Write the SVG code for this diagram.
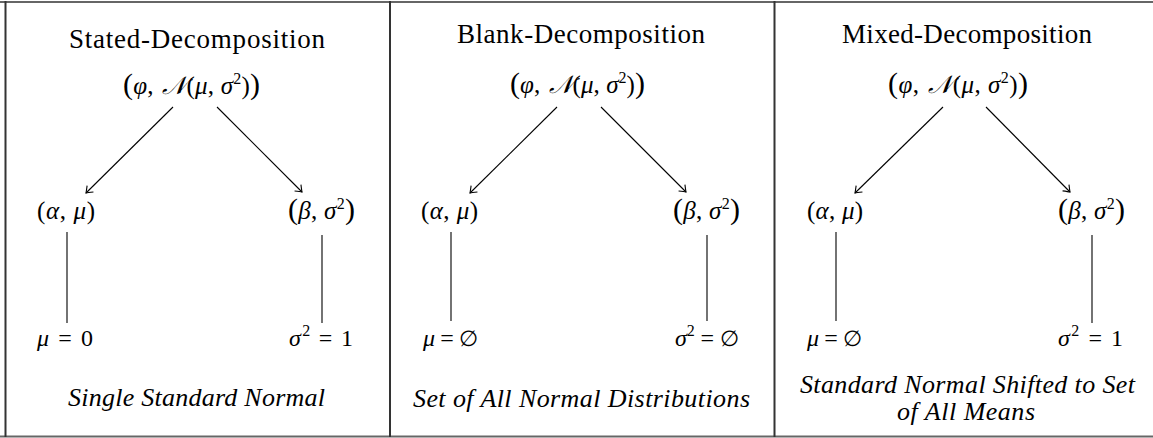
<svg xmlns="http://www.w3.org/2000/svg" width="1153" height="438" viewBox="0 0 1153 438">
<defs>
<style>
.t{font-family:"Liberation Serif","DejaVu Serif",serif;font-size:27px;fill:#000}
.cap{font-family:"Liberation Serif","DejaVu Serif",serif;font-size:26px;font-style:italic;fill:#000}
.m{font-family:"Liberation Serif","DejaVu Serif",serif;font-size:25px;fill:#000}
.mb{font-family:"Liberation Serif","DejaVu Serif",serif;font-size:24px;fill:#000}
.i{font-style:italic}
.bp{font-size:30px}
.sup{font-size:16px}
.es{font-size:22px}
.ln{stroke:#000;stroke-width:1.1;fill:none}
.ar{stroke:#000;stroke-width:1.1;fill:none;marker-end:url(#to)}
.frameh{stroke:#666;stroke-width:2}
.framev{stroke:#333;stroke-width:2}
</style>
<marker id="to" markerWidth="12" markerHeight="12" refX="0" refY="0" viewBox="-8 -6 10 12" orient="auto" markerUnits="userSpaceOnUse">
<path d="M-6,-4.5 Q-1.5,-1 0,0 Q-1.5,1 -6,4.5" stroke="#000" stroke-width="1.1" fill="none"/>
</marker>
</defs>
<g id="frame">
<line class="frameh" x1="0" y1="2" x2="1153" y2="2"/>
<line class="frameh" x1="0" y1="436.5" x2="1153" y2="436.5"/>
<line class="framev" x1="5.5" y1="1" x2="5.5" y2="437"/>
<line class="framev" x1="390" y1="1" x2="390" y2="437"/>
<line class="framev" x1="774.5" y1="1" x2="774.5" y2="437"/>
</g>
<g id="connectors">
<line class="ar" x1="173" y1="107" x2="86" y2="193"/>
<line class="ar" x1="217" y1="107" x2="302" y2="192"/>
<line class="ln" x1="67" y1="232" x2="67" y2="323"/>
<line class="ln" x1="322" y1="235" x2="322" y2="323"/>
<line class="ar" x1="557" y1="107" x2="470" y2="193"/>
<line class="ar" x1="601" y1="107" x2="686" y2="192"/>
<line class="ln" x1="451" y1="232" x2="451" y2="321"/>
<line class="ln" x1="707" y1="235" x2="707" y2="321"/>
<line class="ar" x1="943" y1="107" x2="855" y2="193"/>
<line class="ar" x1="986" y1="107" x2="1070" y2="192"/>
<line class="ln" x1="836" y1="232" x2="836" y2="321"/>
<line class="ln" x1="1092" y1="235" x2="1092" y2="323"/>
</g>
<g id="panel-stated">
<text id="title-stated" class="t" x="69" y="48" textLength="256">Stated-Decomposition</text>
<g id="root-stated"><text class="m" x="123" y="94" textLength="137"><tspan class="bp">(</tspan><tspan class="i">φ</tspan>, <tspan class="i" dx="2">𝒩</tspan>(<tspan class="i">μ</tspan>, <tspan class="i">σ</tspan><tspan class="sup" dy="-10">2</tspan><tspan dy="10">)</tspan><tspan class="bp">)</tspan></text></g>
<g id="alpha-stated"><text class="m" x="37" y="219" textLength="58">(<tspan class="i">α</tspan>, <tspan class="i">μ</tspan>)</text></g>
<g id="beta-stated"><text class="m" x="288" y="219" textLength="67"><tspan class="bp">(</tspan><tspan class="i">β</tspan>, <tspan class="i">σ</tspan><tspan class="sup" dy="-10">2</tspan><tspan class="bp" dy="10">)</tspan></text></g>
<g id="mu-stated"><text class="mb" x="37" y="346" textLength="56"><tspan class="i">μ</tspan> = 0</text></g>
<g id="sigma-stated"><text class="mb" x="289" y="346" textLength="64"><tspan class="i">σ</tspan><tspan class="sup" dy="-10">2</tspan><tspan dy="10"> = 1</tspan></text></g>
<text class="cap" x="68" y="406" textLength="257">Single Standard Normal</text>
</g>
<g id="panel-blank">
<text id="title-blank" class="t" x="457" y="43" textLength="248">Blank-Decomposition</text>
<g id="root-blank"><text class="m" x="510" y="93" textLength="135"><tspan class="bp">(</tspan><tspan class="i">φ</tspan>, <tspan class="i" dx="2">𝒩</tspan>(<tspan class="i">μ</tspan>, <tspan class="i">σ</tspan><tspan class="sup" dy="-10">2</tspan><tspan dy="10">)</tspan><tspan class="bp">)</tspan></text></g>
<g id="alpha-blank"><text class="m" x="421" y="219" textLength="57">(<tspan class="i">α</tspan>, <tspan class="i">μ</tspan>)</text></g>
<g id="beta-blank"><text class="m" x="673" y="219" textLength="67"><tspan class="bp">(</tspan><tspan class="i">β</tspan>, <tspan class="i">σ</tspan><tspan class="sup" dy="-10">2</tspan><tspan class="bp" dy="10">)</tspan></text></g>
<g id="mu-blank"><text class="mb" x="423" y="346" textLength="55"><tspan class="i">μ</tspan> = <tspan class="es">∅</tspan></text></g>
<g id="sigma-blank"><text class="mb" x="675" y="346" textLength="64"><tspan class="i">σ</tspan><tspan class="sup" dy="-10">2</tspan><tspan dy="10"> = </tspan><tspan class="es">∅</tspan></text></g>
<text class="cap" x="413" y="407" textLength="337">Set of All Normal Distributions</text>
</g>
<g id="panel-mixed">
<text id="title-mixed" class="t" x="842" y="43" textLength="250">Mixed-Decomposition</text>
<g id="root-mixed"><text class="m" x="888" y="93" textLength="140"><tspan class="bp">(</tspan><tspan class="i">φ</tspan>, <tspan class="i" dx="2">𝒩</tspan>(<tspan class="i">μ</tspan>, <tspan class="i">σ</tspan><tspan class="sup" dy="-10">2</tspan><tspan dy="10">)</tspan><tspan class="bp">)</tspan></text></g>
<g id="alpha-mixed"><text class="m" x="807" y="219" textLength="56">(<tspan class="i">α</tspan>, <tspan class="i">μ</tspan>)</text></g>
<g id="beta-mixed"><text class="m" x="1058" y="219" textLength="67"><tspan class="bp">(</tspan><tspan class="i">β</tspan>, <tspan class="i">σ</tspan><tspan class="sup" dy="-10">2</tspan><tspan class="bp" dy="10">)</tspan></text></g>
<g id="mu-mixed"><text class="mb" x="807" y="346" textLength="55"><tspan class="i">μ</tspan> = <tspan class="es">∅</tspan></text></g>
<g id="sigma-mixed"><text class="mb" x="1058" y="346" textLength="65"><tspan class="i">σ</tspan><tspan class="sup" dy="-10">2</tspan><tspan dy="10"> = 1</tspan></text></g>
<text class="cap" x="800" y="393" textLength="335">Standard Normal Shifted to Set</text>
<text class="cap" x="897" y="420" textLength="138">of All Means</text>
</g>
</svg>
